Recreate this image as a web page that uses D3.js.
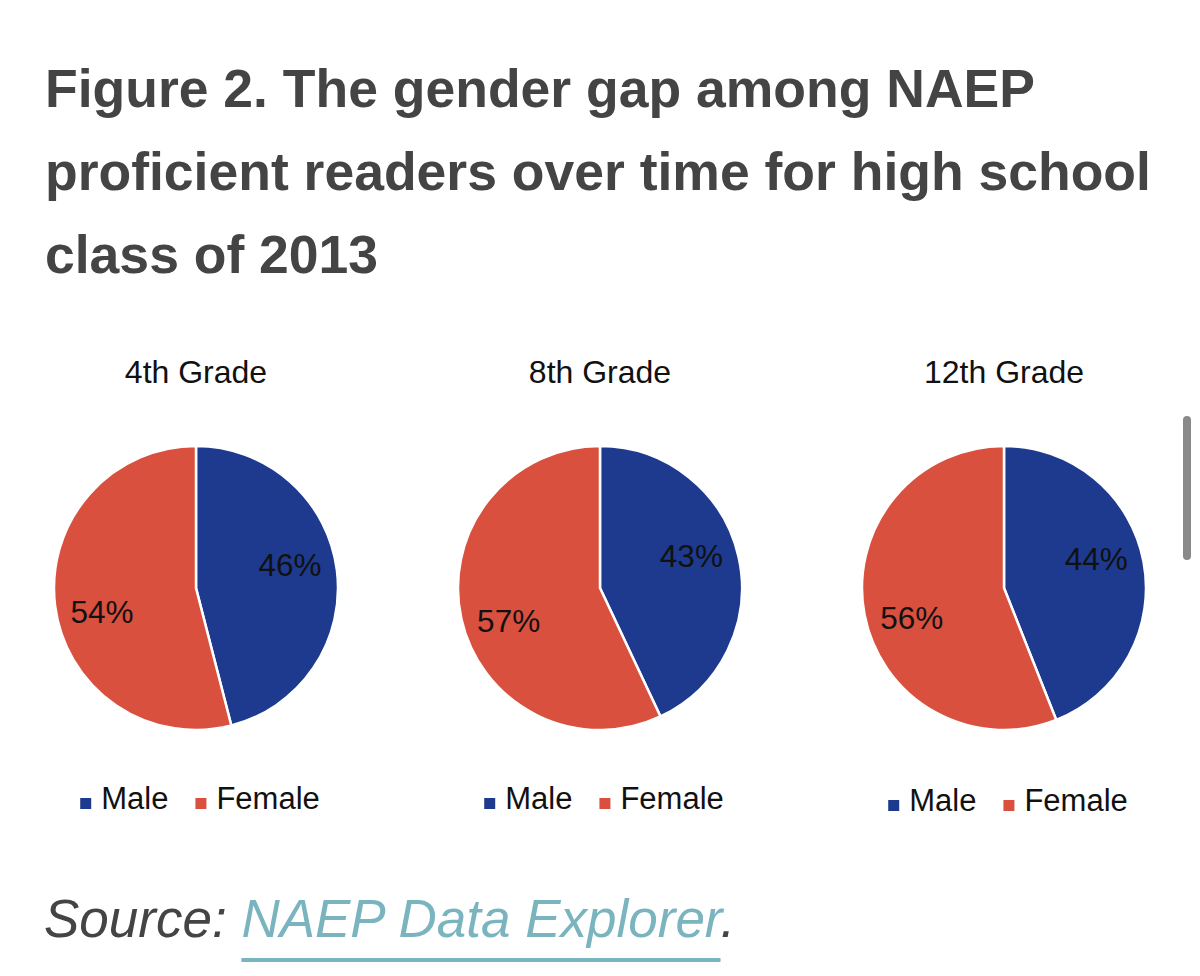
<!DOCTYPE html>
<html>
<head>
<meta charset="utf-8">
<script src="https://cdn.jsdelivr.net/npm/d3@7"></script>
<style>
  html, body { margin: 0; padding: 0; background: #fff; }
  svg { display: block; font-family: "Liberation Sans", Arial, Helvetica, sans-serif; }
  .title { font-weight: bold; font-size: 53.5px; fill: #444; }
  .grade-title { font-size: 32px; fill: #111; }
  .slice-label { font-size: 31.5px; fill: #111; }
  .legend-text { font-size: 31px; fill: #111; }
  .source { font-size: 53px; font-style: italic; fill: #444; }
  .source-link { fill: #7ab4be; }
</style>
</head>
<body>
<div id="chart"></div>
<script>
// Gender split of NAEP proficient readers, class of 2013
const titleLines = [
    "Figure 2. The gender gap among NAEP",
    "proficient readers over time for high school",
    "class of 2013",
];
const grades = ["4th Grade", "8th Grade", "12th Grade"];
const seriesNames = ["Male", "Female"];
const maleShare = [46, 43, 44];
const femaleShare = [54, 57, 56];
const sourceLabel = "Source: ";
const sourceLink = "NAEP Data Explorer";

const W = 1200;
const H = 976;
const R = 142;
const LABEL_R = 97;
const LABEL_SHIFT = -7 * Math.PI / 180; // labels sit a bit counter-clockwise of mid-angle

const color = d3.scaleOrdinal()
    .domain(seriesNames)
    .range(["#1d3a8e", "#d9503f"]);

const svg = d3.select("#chart")
    .append("svg")
    .attr("width", W)
    .attr("height", H)
    .attr("viewBox", `0 0 ${W} ${H}`);

// Title
svg.append("text")
    .attr("class", "title")
    .selectAll("tspan")
    .data(titleLines)
    .join("tspan")
    .attr("x", 45)
    .attr("y", (_, i) => 107 + i * 83)
    .text((d) => d);

// One pie per grade
const cx = d3.scalePoint().domain(grades).range([196, 1004]);
const pie = d3.pie().sort(null).value((d) => d.value);
const arc = d3.arc().innerRadius(0).outerRadius(R);

grades.forEach((grade, gi) => {
    const data = seriesNames.map((name, si) => ({
        name,
        value: si === 0 ? maleShare[gi] : femaleShare[gi],
    }));

    const g = svg.append("g")
        .attr("transform", `translate(${cx(grade)},588)`);

    g.append("text")
        .attr("class", "grade-title")
        .attr("x", 0)
        .attr("y", -205)
        .attr("text-anchor", "middle")
        .text(grade);

    const arcs = pie(data);

    g.selectAll("path.slice")
        .data(arcs)
        .join("path")
        .attr("class", "slice")
        .attr("d", arc)
        .attr("fill", (d) => color(d.data.name))
        .attr("stroke", "#fff")
        .attr("stroke-width", 2.5);

    g.selectAll("text.slice-label")
        .data(arcs)
        .join("text")
        .attr("class", "slice-label")
        .attr("text-anchor", "middle")
        .attr("dy", "0.36em")
        .attr("x", (d) => LABEL_R * Math.sin((d.startAngle + d.endAngle) / 2 + LABEL_SHIFT))
        .attr("y", (d) => -LABEL_R * Math.cos((d.startAngle + d.endAngle) / 2 + LABEL_SHIFT))
        .text((d) => `${d.data.value}%`);

    // Legend under each pie, centred on it
    const legend = g.append("g")
        .attr("transform", `translate(0,${221 + (gi === 2 ? 2 : 0)})`);

    const items = legend.selectAll("g")
        .data(seriesNames)
        .join("g");

    items.append("rect")
        .attr("y", -11)
        .attr("width", 11)
        .attr("height", 11)
        .attr("fill", (d) => color(d));

    items.append("text")
        .attr("class", "legend-text")
        .attr("x", 21)
        .attr("y", 0)
        .text((d) => d);

    // lay the entries out side by side, then centre the row
    const widths = [];
    items.each(function () { widths.push(this.getBBox().width); });
    const gap = 27;
    const total = d3.sum(widths) + gap * (widths.length - 1);
    let offset = -total / 2 + 4;
    items.attr("transform", (_, i) => {
        const x = offset;
        offset += widths[i] + gap;
        return `translate(${x},0)`;
    });
});

// Source line
const src = svg.append("text")
    .attr("class", "source")
    .attr("x", 44)
    .attr("y", 937);
src.append("tspan").text(sourceLabel);
src.append("tspan").attr("class", "source-link").text(sourceLink);
src.append("tspan").text(".");

const srcNode = src.node();
const startX = srcNode.getStartPositionOfChar(sourceLabel.length).x;
const endX = srcNode.getEndPositionOfChar(sourceLabel.length + sourceLink.length - 1).x;
svg.append("rect")
    .attr("x", startX)
    .attr("y", 958)
    .attr("width", endX - startX)
    .attr("height", 4)
    .attr("fill", "#7ab4be");

// Page scrollbar seen at the right edge of the screenshot
svg.append("rect")
    .attr("x", 1183)
    .attr("y", 416)
    .attr("width", 8)
    .attr("height", 144)
    .attr("rx", 4)
    .attr("fill", "#8a8a8a");
</script>
</body>
</html>
